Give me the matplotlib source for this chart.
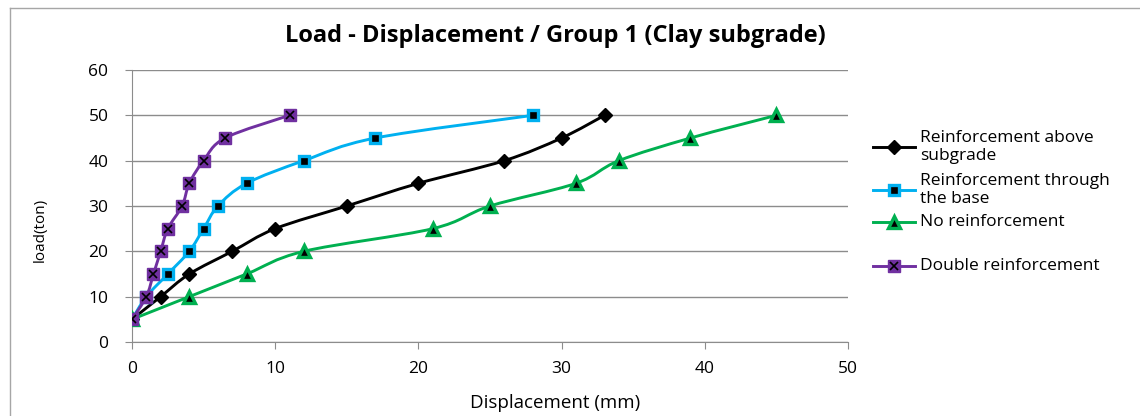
import numpy as np
import matplotlib.pyplot as plt
from matplotlib.path import Path
from matplotlib.patches import PathPatch
from matplotlib.lines import Line2D

plt.rcParams['font.family'] = ['Open Sans', 'DejaVu Sans']

# data (load in ton, displacement in mm)
load = [5, 10, 15, 20, 25, 30, 35, 40, 45, 50]
disp_above = [0, 2, 4, 7, 10, 15, 20, 26, 30, 33]
disp_through = [0, 1, 2.5, 4, 5, 6, 8, 12, 17, 28]
disp_none = [0, 4, 8, 12, 21, 25, 31, 34, 39, 45]
disp_double = [0, 1, 1.5, 2, 2.5, 3.5, 4, 5, 6.5, 11]

labels = ["Reinforcement above\nsubgrade", "Reinforcement through\nthe base",
          "No reinforcement", "Double reinforcement"]
colors = ["black", "#00B0F0", "#00B050", "#7030A0"]


def smooth_path(x, y):
    # excel style smoothed line (catmull-rom as bezier)
    pts = np.column_stack([x, y]).astype(float)
    n = len(pts)
    verts = [pts[0]]
    codes = [Path.MOVETO]
    for i in range(n - 1):
        p0 = pts[i - 1] if i > 0 else pts[i]
        p1, p2 = pts[i], pts[i + 1]
        p3 = pts[i + 2] if i + 2 < n else pts[i + 1]
        verts += [p1 + (p2 - p0) / 6, p2 - (p3 - p1) / 6, p2]
        codes += [Path.CURVE4] * 3
    return Path(verts, codes)


def marker_style(k):
    if k == 0:
        return [dict(marker='D', markersize=7, mfc='black', mec='black', mew=1)]
    if k == 1:
        return [dict(marker='s', markersize=7.5, mfc='black', mec=colors[1], mew=2.4)]
    if k == 2:
        return [dict(marker='^', markersize=8, mfc='black', mec=colors[2], mew=2.4)]
    return [dict(marker='s', markersize=8, mfc=colors[3], mec=colors[3], mew=1),
            dict(marker='x', markersize=5.5, mec='black', mew=1.2)]


fig = plt.figure(figsize=(11.4, 4.16), dpi=100)
W, H = 1140, 416
ax = fig.add_axes([132 / W, 1 - 342 / H, 716 / W, 272 / H])

series = [disp_above, disp_through, disp_none, disp_double]
for k, d in enumerate(series):
    ax.add_patch(PathPatch(smooth_path(d, load), fill=False, edgecolor=colors[k],
                           lw=2.1, zorder=3 + k))
    for ms in marker_style(k):
        ax.plot(d, load, linestyle='none', zorder=3.5 + k, **ms)

ax.set_xlim(0, 50)
ax.set_ylim(0, 60)
ax.set_xticks(range(0, 51, 10))
ax.set_yticks(range(0, 61, 10))
ax.grid(axis='y', color='#8c8c8c', lw=1)
ax.set_axisbelow(True)
for s in ['top', 'right']:
    ax.spines[s].set_visible(False)
for s in ['left', 'bottom']:
    ax.spines[s].set_color('#8c8c8c')
ax.tick_params(colors='#8c8c8c', labelcolor='black', labelsize=12.5, length=5,
               direction='out')
ax.tick_params(axis='x', pad=9)
ax.tick_params(axis='y', pad=12)

fig.text(555 / W, 1 - 36 / H, "Load - Displacement / Group 1 (Clay subgrade)",
         ha='center', va='center', fontsize=17, fontweight='bold')
fig.text(555 / W, 1 - 403 / H, "Displacement (mm)", ha='center', va='center',
         fontsize=13.5)
fig.text(40 / W, 1 - 230 / H, "load(ton)", ha='center', va='center',
         fontsize=11, rotation=90)

# legend drawn by hand to match excel spacing
leg_y = [147, 190, 222, 266]
for k in range(4):
    yy = 1 - leg_y[k] / H
    fig.add_artist(Line2D([873 / W, 915 / W], [yy, yy], color=colors[k], lw=2.1))
    for ms in marker_style(k):
        fig.add_artist(Line2D([894 / W], [yy], linestyle='none', **ms))
    fig.text(920 / W, yy, labels[k], ha='left', va='center', fontsize=12.5,
             linespacing=1.15)

# chart area border
fig.add_artist(Line2D([10 / W, 10 / W], [0, 1 - 8 / H], color='#a6a6a6', lw=1))
fig.add_artist(Line2D([10 / W, 1], [1 - 8 / H, 1 - 8 / H], color='#a6a6a6', lw=1))

fig.savefig('out.png', dpi=100)
